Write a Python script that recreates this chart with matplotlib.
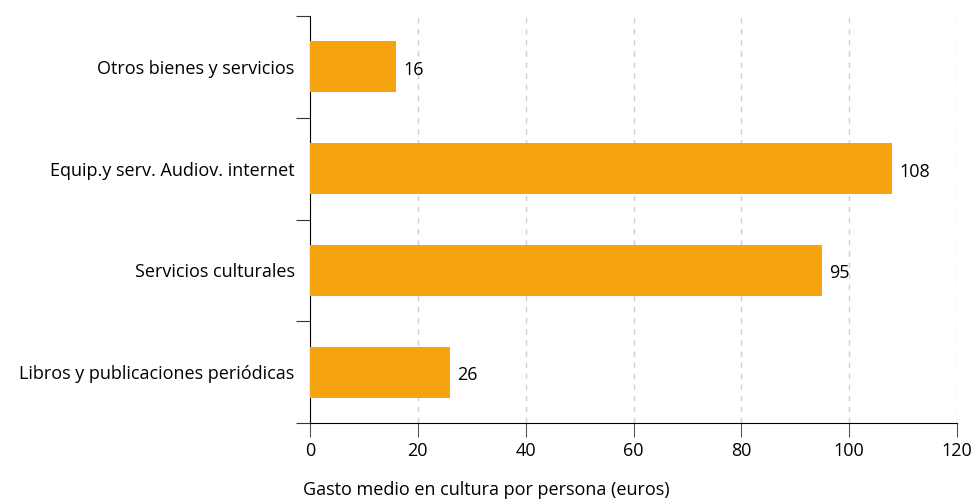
import matplotlib
matplotlib.use('Agg')
import matplotlib.pyplot as plt
import numpy as np

categories = ["Libros y publicaciones periódicas", "Servicios culturales",
              "Equip.y serv. Audiov. internet", "Otros bienes y servicios"]
values = [26, 95, 108, 16]
xticks = [0, 20, 40, 60, 80, 100, 120]
xlabel = "Gasto medio en cultura por persona (euros)"

plt.rcParams['font.family'] = ['Open Sans', 'DejaVu Sans']
orange = "#F5A30F"
fs = 13

fig = plt.figure(figsize=(9.73, 5.0), dpi=100)
ax = fig.add_axes([310/973, 1-423/500, (957-310)/973, (423-16)/500])

pos = np.arange(len(categories))
ax.barh(pos, values, height=0.5, color=orange, zorder=3)
for p, v in zip(pos, values):
    ax.text(v + 1.3, p - 0.03, str(v), va='center', ha='left', fontsize=fs)

ax.set_xlim(0, 120)
ax.set_ylim(-0.5, len(categories) - 0.5)
ax.set_xticks(xticks)
ax.set_xticklabels([str(t) for t in xticks], fontsize=fs)
ax.set_yticks(np.arange(-0.5, len(categories), 1.0))
ax.set_yticklabels([])
ax.set_yticks(pos, minor=True)
ax.set_yticklabels(categories, minor=True, fontsize=fs)
ax.tick_params(axis='y', which='minor', length=0, pad=11)
ax.tick_params(axis='y', which='major', length=10, color='#333333')
ax.tick_params(axis='x', length=10, color='#555555', pad=4)

for t in xticks[1:]:
    ax.axvline(t, color='#d0d0d0', linestyle=(0, (4, 4)), linewidth=1, zorder=1)

for s in ['top', 'right']:
    ax.spines[s].set_visible(False)
ax.spines['left'].set_color('black')
ax.spines['bottom'].set_color('black')

fig.text(303/973, 1-490/500, xlabel, ha='left', va='center', fontsize=fs)

fig.savefig('out.png', dpi=100)
